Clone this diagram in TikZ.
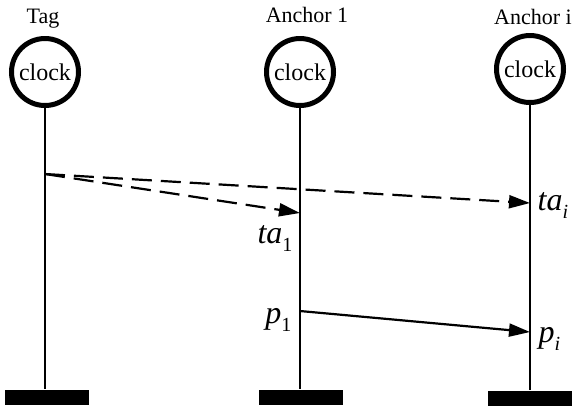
\documentclass[tikz,border=0pt]{standalone}
\usepackage{fontspec}
\setmainfont{Liberation Serif}
\usetikzlibrary{arrows.meta, positioning}
\tikzset{
  every picture/.style={line width=0.6pt},
  clk/.style={circle, draw, line width=2.5pt, minimum size=33.5pt, inner sep=0pt, font=\fontsize{12}{14}\selectfont},
  title/.style={font=\fontsize{11}{13}\selectfont, inner sep=0pt, anchor=base},
  base/.style={fill=black, minimum width=42pt, minimum height=7.5pt, inner sep=0pt},
  life/.style={line width=0.6pt},
  msg/.style={-{Triangle[length=10.5pt, width=6.5pt]}, line width=1.1pt},
  dashmsg/.style={msg, dash pattern=on 10pt off 4.5pt},
  lbl/.style={font=\fontsize{16}{18}\selectfont, inner sep=0pt},
}
\newcommand{\tsub}[2]{\textit{#1}\raisebox{-4pt}{\fontsize{10}{12}\selectfont #2}}

\begin{document}
\begin{tikzpicture}[x=0.5pt, y=-0.5pt]
  \useasboundingbox (0,0) rectangle (576,409);
  % clocks and titles
  \node[clk] (tagclk) at (45,72) {clock};
  \node[clk] (aoneclk) at (300,72) {clock};
  \node[clk] (aiclk) at (530,69) {clock};
  \node[title] (tagname) at (43,23) {Tag};
  \node[title] (aonename) at (307,22) {Anchor 1};
  \node[title] (ainame) at (533,24) {Anchor i};
  % bases
  \node[base] (tagbase) at (47,397.5) {};
  \node[base] (aonebase) at (301,397.5) {};
  \node[base] (aibase) at (530,398.5) {};
  % lifelines
  \draw[life] (tagclk.south) -- (tagclk.south |- tagbase.north);
  \draw[life] (aoneclk.south) -- (aoneclk.south |- aonebase.north);
  \draw[life] (aiclk.south) -- (aiclk.south |- aibase.north);
  % message points
  \coordinate (tx) at (45,174);
  \coordinate (ta1) at (300,213);
  \coordinate (tai) at (530,203);
  \coordinate (pone) at (300,311);
  \coordinate (pi) at (530,332);
  \draw[dashmsg] (tx) -- (ta1);
  \draw[dashmsg] (tx) -- (tai);
  \draw[msg] (pone) -- (pi);
  % labels
  \node[lbl, anchor=base east] (ta1lbl) at ([shift={(-3.5pt,-15pt)}]ta1) {\tsub{ta}{1}};
  \node[lbl, anchor=base west] (tailbl) at ([shift={(3.5pt,-3.5pt)}]tai) {\tsub{ta}{\textit{i}}};
  \node[lbl, anchor=base east] (p1lbl) at ([shift={(-4pt,-6pt)}]pone) {\tsub{p}{1}};
  \node[lbl, anchor=base west] (pilbl) at ([shift={(4pt,-5pt)}]pi) {\tsub{p}{\textit{i}}};
\end{tikzpicture}
\end{document}
